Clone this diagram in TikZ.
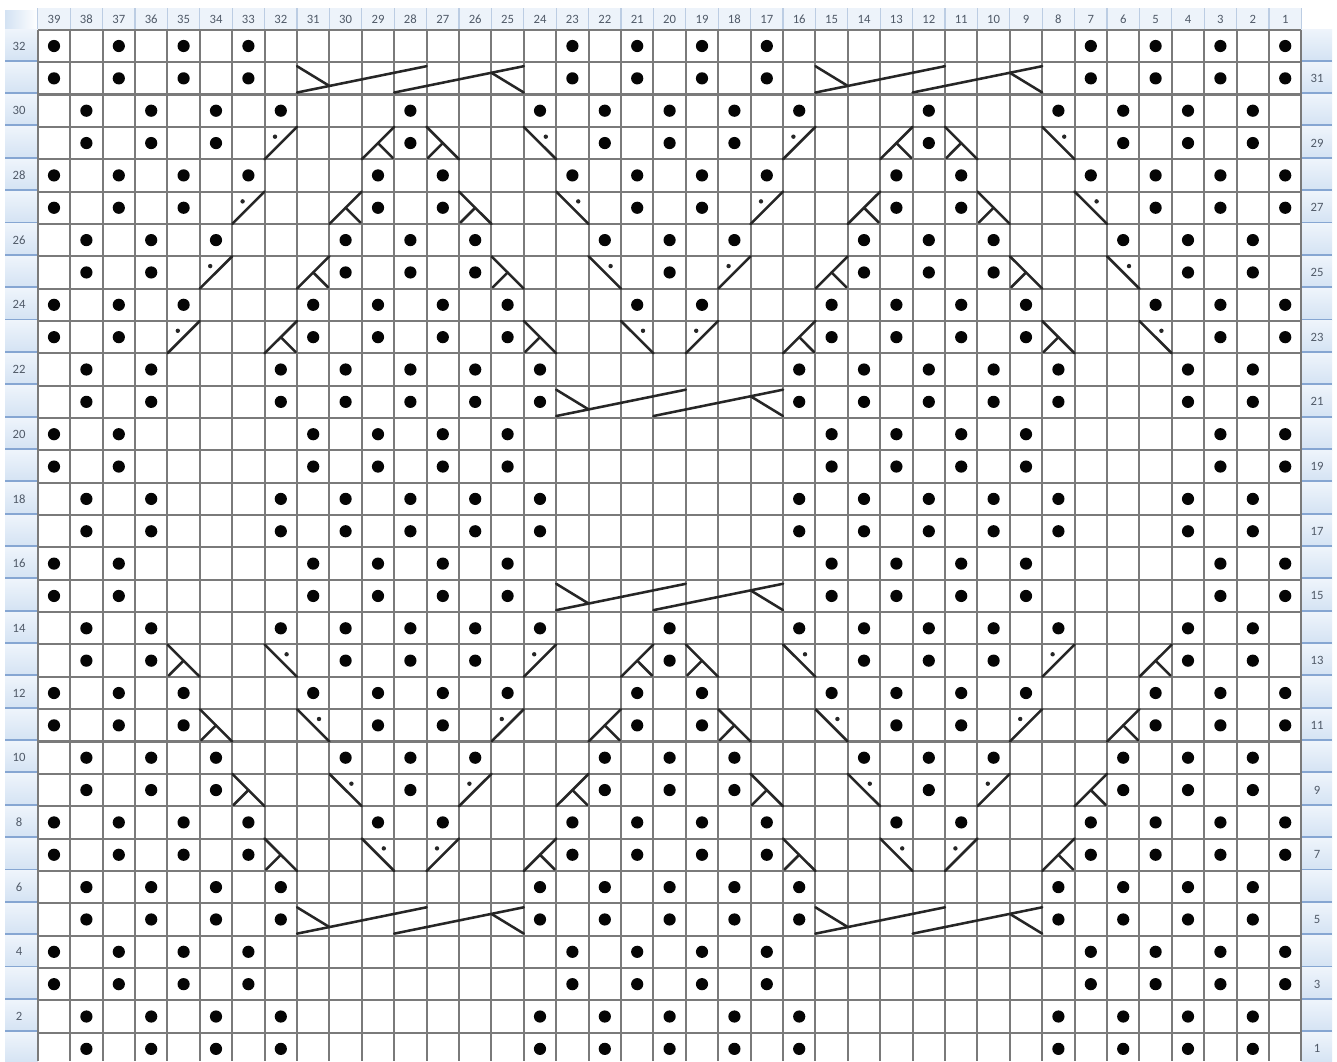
\documentclass[tikz,border=0pt]{standalone}
\usepackage{fontspec}
\setmainfont{Carlito}
\definecolor{gridc}{HTML}{7A7A7A}
\definecolor{symc}{HTML}{262626}
\definecolor{dotc}{HTML}{050505}
\definecolor{labc}{HTML}{505A68}
\definecolor{hdrbg}{HTML}{EDF3FA}
\definecolor{hdrline}{HTML}{BCCDE3}
\definecolor{sidetop}{HTML}{EEF4FB}
\definecolor{sidebot}{HTML}{D3E2F3}
\definecolor{sideline}{HTML}{86A6D2}
% purl-dot patterns
\def\LA{39,37,35,33,23,21,19,17,7,5,3,1}
\def\LB{38,36,34,32,24,22,20,18,16,8,6,4,2}
\def\LC{38,36,34,32,28,24,22,20,18,16,12,8,6,4,2}
\def\LD{38,36,34,28,22,20,18,12,6,4,2}
\def\LE{39,37,35,33,29,27,23,21,19,17,13,11,7,5,3,1}
\def\LF{39,37,35,29,27,21,19,13,11,5,3,1}
\def\LG{38,36,34,30,28,26,22,20,18,14,12,10,6,4,2}
\def\LH{38,36,30,28,26,20,14,12,10,4,2}
\def\LI{39,37,35,31,29,27,25,21,19,15,13,11,9,5,3,1}
\def\LJ{39,37,31,29,27,25,15,13,11,9,3,1}
\def\LK{38,36,32,30,28,26,24,16,14,12,10,8,4,2}
\def\LL{38,36,32,30,28,26,24,20,16,14,12,10,8,4,2}
% symbols: #1 column number, #2 row number
\newcommand\kkset[2]{%
  \pgfmathsetmacro\kL{54+(39-#1)*32.4-16.2}%
  \pgfmathsetmacro\kT{46+(32-#2)*32.35-16.175}}
\newcommand\kkA[2]{\kkset{#1}{#2}%
  \draw[symline] (\kL,\kT+32.35) -- (\kL+32.4,\kT);
  \fill[symc] (\kL+10.4,\kT+9.8) circle[radius=2.2];}
\newcommand\kkB[2]{\kkset{#1}{#2}%
  \draw[symline] (\kL,\kT) -- (\kL+32.4,\kT+32.35);
  \fill[symc] (\kL+22,\kT+9.8) circle[radius=2.2];}
\newcommand\kkC[2]{\kkset{#1}{#2}%
  \draw[symline] (\kL,\kT+32.35) -- (\kL+32.4,\kT);
  \draw[symline] (\kL+16.2,\kT+16.175) -- (\kL+31,\kT+31);}
\newcommand\kkD[2]{\kkset{#1}{#2}%
  \draw[symline] (\kL,\kT) -- (\kL+32.4,\kT+32.35);
  \draw[symline] (\kL+1.4,\kT+31) -- (\kL+16.2,\kT+16.175);}
\newcommand\kkcable[2]{\kkset{#1}{#2}%
  \draw[symline] (\kL,\kT+30.35) -- (\kL+129.6,\kT+4);
  \draw[symline] (\kL+97.2,\kT+30.35) -- (\kL+226.8,\kT+4);
  \draw[symline] (\kL,\kT+4) -- (\kL+32.4,\kT+23.76);
  \draw[symline] (\kL+194.4,\kT+10.59) -- (\kL+226.8,\kT+30.35);}
\begin{document}
\begin{tikzpicture}[x=0.75pt,y=-0.75pt,
  symline/.style={draw=symc,line width=1.9pt,line cap=round},
  gridline/.style={draw=gridc,line width=1.55pt},
  lab/.style={text=labc,font=\fontsize{9.5}{10}\selectfont,inner sep=0pt}]
\useasboundingbox (0,0) rectangle (1337,1061);
\clip (0,0) rectangle (1337,1061);
\fill[white] (0,0) rectangle (1337,1061);
% corner cell and header band
\shade[left color=sidebot,right color=white] (5,10) rectangle (37.8,29.8);
\fill[hdrbg] (37.8,8) rectangle (1301.4,29.8);
\foreach \k in {0,...,39}
  \draw[hdrline,line width=1pt] ({37.8+\k*32.4},8) -- ({37.8+\k*32.4},29.8);
\draw[sideline,line width=1pt] (5,29.3) -- (1301.4,29.3);
% side label columns
\foreach \k in {0,...,31} {
  \shade[top color=sidetop,bottom color=sidebot]
    (5,{29.8+\k*32.35}) rectangle (37.8,{29.8+(\k+1)*32.35});
  \shade[top color=sidetop,bottom color=sidebot]
    (1301.4,{29.8+\k*32.35}) rectangle (1332,{29.8+(\k+1)*32.35});
  \draw[sideline,line width=1.8pt] (5,{29.8+(\k+1)*32.35-1.2}) -- (37.8,{29.8+(\k+1)*32.35-1.2});
  \draw[sideline,line width=1.8pt] (1301.4,{29.8+(\k+1)*32.35-1.2}) -- (1332,{29.8+(\k+1)*32.35-1.2});
}
% grid
\foreach \k in {0,...,39}
  \draw[gridline] ({37.8+\k*32.4},29.8) -- ({37.8+\k*32.4},1061);
\foreach \k in {0,...,32}
  \draw[gridline] (37.8,{29.8+\k*32.35}) -- (1301.4,{29.8+\k*32.35});
% purl dots
\foreach \r/\lst in {32/\LA,31/\LA,30/\LC,29/\LD,28/\LE,27/\LF,26/\LG,25/\LH,
    24/\LI,23/\LJ,22/\LK,21/\LK,20/\LJ,19/\LJ,18/\LK,17/\LK,16/\LJ,15/\LJ,
    14/\LL,13/\LH,12/\LI,11/\LF,10/\LG,9/\LD,8/\LE,7/\LA,6/\LB,5/\LB,
    4/\LA,3/\LA,2/\LB,1/\LB} {
  \edef\kklist{\lst}
  \foreach \c in \kklist
    \fill[dotc] ({54+(39-\c)*32.4},{46+(32-\r)*32.35}) circle[radius=6.1];
}
% decrease / cross symbols
\foreach \t/\c/\r in {A/32/29,A/16/29,C/29/29,C/13/29,D/27/29,D/11/29,B/24/29,B/8/29,
    A/33/27,A/17/27,C/30/27,C/14/27,D/26/27,D/10/27,B/23/27,B/7/27,
    A/34/25,A/18/25,C/31/25,C/15/25,D/25/25,D/9/25,B/22/25,B/6/25,
    A/35/23,A/19/23,C/32/23,C/16/23,D/24/23,D/8/23,B/21/23,B/5/23,
    D/35/13,D/19/13,B/32/13,B/16/13,A/24/13,A/8/13,C/21/13,C/5/13,
    D/34/11,D/18/11,B/31/11,B/15/11,A/25/11,A/9/11,C/22/11,C/6/11,
    D/33/9,D/17/9,B/30/9,B/14/9,A/26/9,A/10/9,C/23/9,C/7/9,
    D/32/7,D/16/7,B/29/7,B/13/7,A/27/7,A/11/7,C/24/7,C/8/7} {
  \csname kk\t\endcsname{\c}{\r}
}
% cables
\foreach \c/\r in {31/31,15/31,23/21,23/15,31/5,15/5} { \kkcable{\c}{\r} }
% labels
\foreach \n in {1,...,39}
  \node[lab] (h\n) at ({54+(39-\n)*32.4},19.5) {\n};
\foreach \r in {2,4,...,32}
  \node[lab] (l\r) at (19,{46+(32-\r)*32.35}) {\r};
\foreach \r in {1,3,...,31}
  \node[lab] (r\r) at (1317,{46+(32-\r)*32.35}) {\r};
\end{tikzpicture}
\end{document}
